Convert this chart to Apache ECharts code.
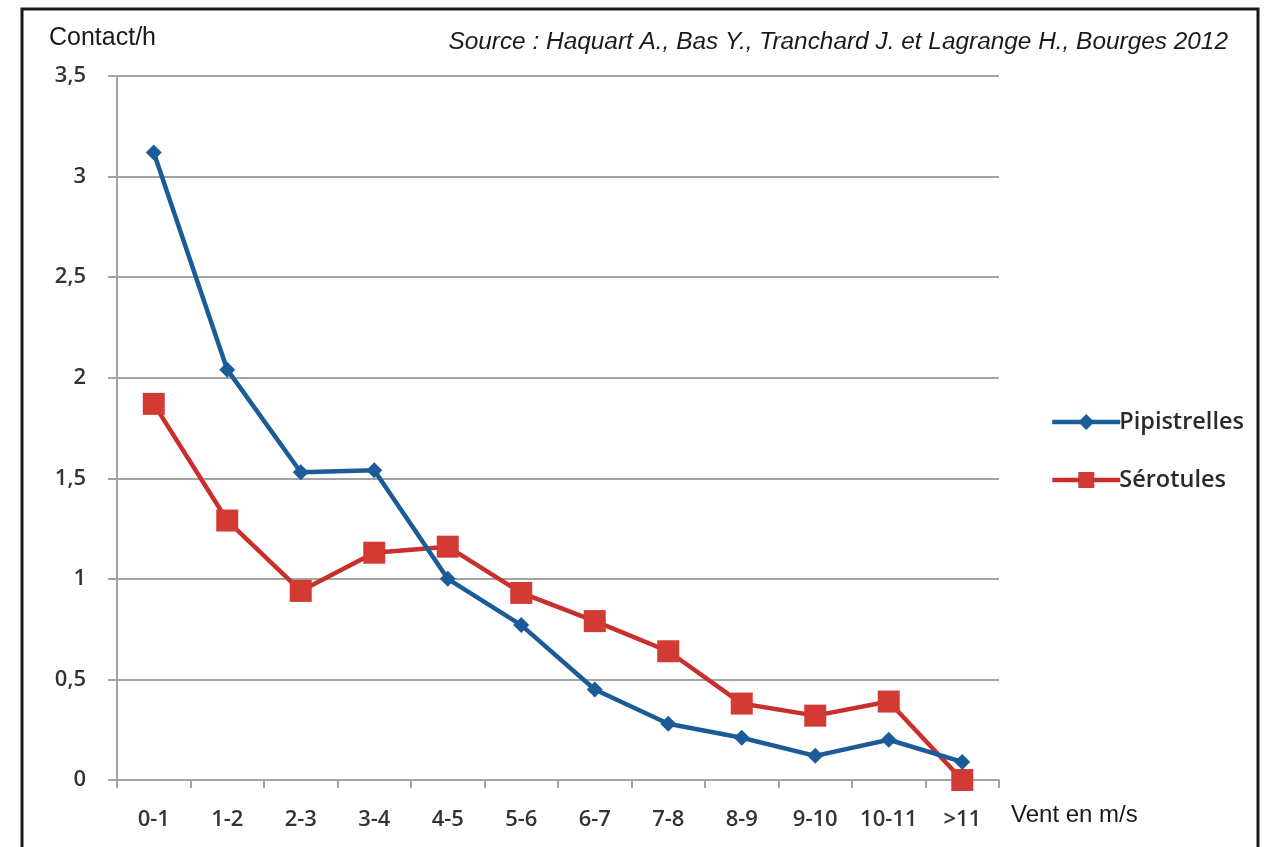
<!DOCTYPE html>
<html>
<head>
<meta charset="utf-8">
<script src="https://cdn.jsdelivr.net/npm/echarts@6/dist/echarts.min.js"></script>
<style>
  html, body { margin: 0; padding: 0; background: #fff; }
  #chart { width: 1268px; height: 847px; }
</style>
</head>
<body>
<div id="chart"></div>
<script>
// Wind-speed classes (m/s)
const categories = ['0-1', '1-2', '2-3', '3-4', '4-5', '5-6', '6-7', '7-8', '8-9', '9-10', '10-11', '>11'];
// Contacts per hour
const pipistrelles = [3.12, 2.04, 1.53, 1.54, 1.00, 0.77, 0.45, 0.28, 0.21, 0.12, 0.20, 0.09];
const serotules = [1.87, 1.29, 0.94, 1.13, 1.16, 0.93, 0.79, 0.64, 0.38, 0.32, 0.39, 0.00];
const yTicks = [0, 0.5, 1, 1.5, 2, 2.5, 3, 3.5];

const axisFont = 'Open Sans, Lato, sans-serif';
const grey = '#a3a3a3';

const chart = echarts.init(document.getElementById('chart'));
chart.setOption({
  backgroundColor: '#ffffff',
  animation: false,
  graphic: [
    {
      type: 'polyline',
      shape: { points: [[22, 847], [22, 9], [1258, 9], [1258, 847]] },
      style: { stroke: '#1a1a1a', lineWidth: 3, fill: null }
    },
    {
      type: 'text', left: 49, top: 26,
      style: { text: 'Contact/h', font: '25px "Liberation Sans", Arial, sans-serif', fill: '#1a1a1a' }
    },
    {
      type: 'text', right: 40, top: 30,
      style: { text: 'Source : Haquart A., Bas Y., Tranchard J. et Lagrange H., Bourges 2012',
               font: 'italic 24.4px "Liberation Sans", Arial, sans-serif', fill: '#1a1a1a' }
    },
    {
      type: 'text', left: 1011, top: 803,
      style: { text: 'Vent en m/s', font: '24px "Liberation Sans", Arial, sans-serif', fill: '#1a1a1a' }
    }
  ],
  grid: { left: 117, right: 269, top: 76, bottom: 67 },
  legend: {
    orient: 'vertical',
    left: 1045,
    top: 405,
    itemGap: 34,
    itemWidth: 68,
    itemHeight: 20,
    lineStyle: { width: 4.5 },
    textStyle: { fontFamily: axisFont, fontSize: 23.5, color: '#2a2a2a', fontWeight: 600, padding: [0, 0, 0, -6] },
    data: ['Pipistrelles', 'Sérotules']
  },
  xAxis: {
    type: 'category',
    data: categories,
    boundaryGap: true,
    axisLine: { lineStyle: { color: grey, width: 2 } },
    axisTick: { show: true, length: 8, lineStyle: { color: grey, width: 2 }, alignWithLabel: false },
    axisLabel: { margin: 29, fontFamily: axisFont, fontSize: 22, fontWeight: 600, color: '#333', interval: 0 }
  },
  yAxis: {
    type: 'value',
    min: yTicks[0],
    max: yTicks[yTicks.length - 1],
    interval: 0.5,
    axisLine: { show: true, lineStyle: { color: grey, width: 2 } },
    axisTick: { show: true, length: 9, lineStyle: { color: grey, width: 2 } },
    splitLine: { lineStyle: { color: grey, width: 2 } },
    axisLabel: {
      margin: 31,
      fontFamily: axisFont, fontSize: 22, fontWeight: 600, color: '#333',
      formatter: v => String(v).replace('.', ',')
    }
  },
  series: [
    {
      name: 'Pipistrelles',
      type: 'line',
      data: pipistrelles,
      symbol: 'diamond',
      symbolSize: 16,
      lineStyle: { color: '#1b5c98', width: 4.5 },
      itemStyle: { color: '#1b5c98' },
      z: 3
    },
    {
      name: 'Sérotules',
      type: 'line',
      data: serotules,
      symbol: 'rect',
      symbolSize: 22,
      lineStyle: { color: '#c9302c', width: 4.5 },
      itemStyle: { color: '#d33a33' },
      z: 2
    }
  ]
});
</script>
</body>
</html>
